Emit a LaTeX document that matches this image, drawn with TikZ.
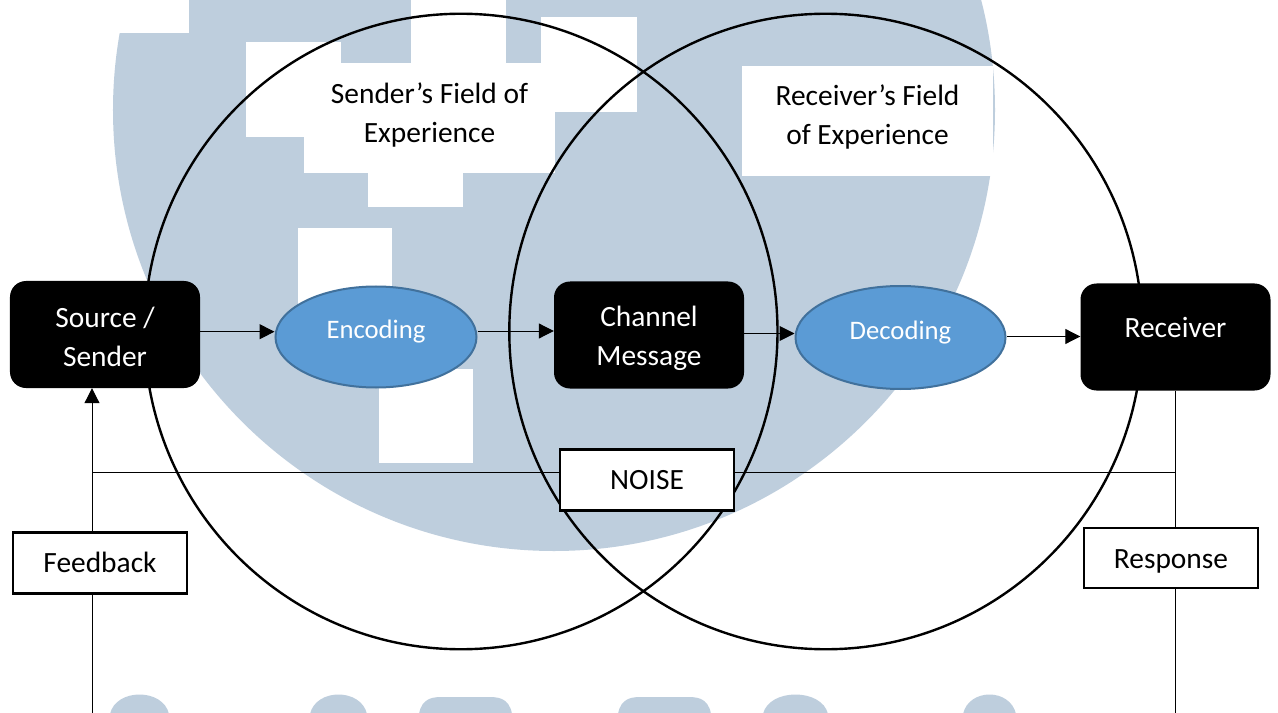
\documentclass[tikz,border=0pt]{standalone}
\usepackage{fontspec}
\setmainfont{Carlito}
\usetikzlibrary{shapes.geometric,arrows.meta}
\definecolor{wm}{HTML}{BECEDD}
\definecolor{ovalfill}{HTML}{5B9BD5}
\definecolor{ovaldraw}{HTML}{41719C}
\newcommand{\shiftv}[2]{\raisebox{#1}[\height][\depth]{#2}}
\tikzset{
  x=1bp,y=-1bp,
  every node/.style={font=\fontsize{29.4bp}{39bp}\selectfont,align=center,inner sep=0pt},
  blackbox/.style={draw=none,fill=black,text=white,rounded corners=16bp,minimum width=190bp,minimum height=107bp},
  oval/.style={ellipse,draw=ovaldraw,line width=2bp,fill=ovalfill,minimum width=201bp,minimum height=101bp},
  ovaltext/.style={font=\fontsize{26.7bp}{32bp}\selectfont,text=white},
  plainbox/.style={rectangle,draw=black,line width=2.2bp,fill=white,text=black},
  field/.style={ellipse,draw=black,line width=2.4bp,minimum width=633bp,minimum height=635.5bp},
  conn/.style={draw=black,line width=1bp},
  arr/.style={conn,-{Triangle[length=15bp,width=15bp]}},
  gap/.style={fill=white,draw=none}
}
\begin{document}
\begin{tikzpicture}
\useasboundingbox (0,0) rectangle (1278,713);
\fill[white] (0,0) rectangle (1278,713);
% watermark
\begin{scope}
\clip (0,0) rectangle (1278,713);
\fill[wm] (554,110) circle[radius=441bp];
\fill[white] (0,-1) rectangle (189,33);
\fill[gap] (246,42) rectangle (341,137);
\fill[gap] (411,-1) rectangle (506,63);
\fill[gap] (541,17) rectangle (637,112);
\fill[gap] (304,63) rectangle (555,173);
\fill[gap] (368,173) rectangle (463,207);
\fill[gap] (298,228) rectangle (392,323);
\fill[gap] (379,369) rectangle (473,463);
\fill[gap] (742,66) rectangle (993,176);
\foreach \xa/\xb in {110/169,310/367,763/828,963/1016}{
  \fill[wm] (\xa,714) .. controls (\xa+6,688) and (\xb-6,688) .. (\xb,714);
}
\foreach \xa/\xb in {419/512,618/711}{
  \fill[wm] (\xa,714) .. controls (\xa+3,697) and (\xa+15,697) .. (\xa+25,697) -- (\xb-25,697) .. controls (\xb-15,697) and (\xb-3,697) .. (\xb,714);
}
\end{scope}
% field labels
\node (sf) at (429.5,115) {Sender’s Field of\\Experience};
\node (rf) at (867.5,117) {Receiver’s Field\\of Experience};
% circles
\node[field] (cl) at (461,331.5) {};
\node[field] (cr) at (825.8,331.5) {};
% nodes
\node[blackbox] (src) at (105,334.5) {\shiftv{-2bp}{Source /}\\\shiftv{-2bp}{Sender}};
\node[blackbox] (chan) at (649,335) {\shiftv{-3bp}{Channel}\\\shiftv{-3bp}{Message}};
\node[blackbox] (recv) at (1175.5,337) {\raisebox{0bp}[0pt][0pt]{Receiver}};
\node[oval] (enc) at (376,337) {};
\node[ovaltext] (enct) at (376,332) {Encoding};
\node[oval,minimum width=210bp,minimum height=103bp] (dec) at (900.5,337.5) {};
\node[ovaltext] (dect) at (900.5,333) {Decoding};
\node[plainbox,minimum width=174bp,minimum height=61bp] (noise) at (647,480) {NOISE};
\node[plainbox,minimum width=174bp,minimum height=61bp] (fb) at (100,563) {\shiftv{1bp}{Feedback}};
\node[plainbox,minimum width=174bp,minimum height=60bp] (resp) at (1171,558) {\shiftv{-3bp}{Response}};
% connectors
\coordinate (fbb) at (92,714);
\coordinate (fbt) at (92,472.5);
\coordinate (rsb) at (1175.5,714);
\draw[arr] (src.east |- 0,331.7) -- (enc.west |- 0,331.7);
\draw[arr] (enc.east |- 0,331) -- (chan.west |- 0,331);
\draw[arr] (chan.east |- 0,333.5) -- (dec.west |- 0,333.5);
\draw[arr] (dec.east |- 0,336.5) -- (recv.west |- 0,336.5);
\draw[conn] (fbb) -- (fb.south -| fbb);
\draw[arr] (fb.north -| fbb) -- (src.south -| fbb);
\draw[conn] (fbt) -- (noise.west |- fbt);
\draw[conn] (noise.east |- fbt) -- (recv.south |- fbt);
\draw[conn] (recv.south) -- (resp.north -| recv.south);
\draw[conn] (resp.south -| recv.south) -- (rsb);
\end{tikzpicture}
\end{document}
